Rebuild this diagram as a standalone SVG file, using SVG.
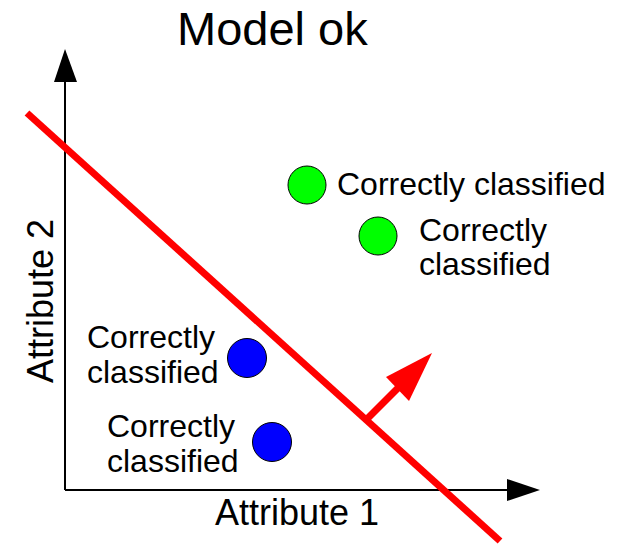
<svg xmlns="http://www.w3.org/2000/svg" width="622" height="544" viewBox="0 0 622 544">
  <style>
    text { font-family: "Liberation Sans", Arial, sans-serif; fill: #000; }
    .title { font-size: 47px; }
    .axis-label { font-size: 36px; }
    .label { font-size: 32px; }
    .axis { stroke: #000; stroke-width: 2; fill: none; }
    .head { fill: #000; }
    .pt { stroke: #000; stroke-width: 1; }
    .green { fill: #00ff00; }
    .blue { fill: #0000ff; }
    .boundary { stroke: #ff0000; stroke-width: 7; fill: none; }
  </style>
  <rect width="622" height="544" fill="#fff"/>

  <text id="title" class="title" x="177" y="45">Model ok</text>

  <g id="axes">
    <line class="axis" x1="65" y1="490" x2="65" y2="80"/>
    <polygon class="head" points="65,49 54,82 77,82"/>
    <line class="axis" x1="65" y1="490" x2="509" y2="490"/>
    <polygon class="head" points="540,490 507,479 507,501"/>
    <text class="axis-label" x="215" y="525">Attribute 1</text>
    <text class="axis-label" transform="translate(53,383) rotate(-90)">Attribute 2</text>
  </g>

  <g id="points">
    <g id="green-1">
      <circle class="pt green" cx="307" cy="185" r="19"/>
      <text class="label" x="337" y="195">Correctly classified</text>
    </g>
    <g id="green-2">
      <circle class="pt green" cx="378" cy="236" r="19"/>
      <text class="label" x="419" y="241">Correctly</text>
      <text class="label" x="419" y="275">classified</text>
    </g>
    <g id="blue-1">
      <circle class="pt blue" cx="247" cy="358" r="19.5"/>
      <text class="label" x="87" y="348">Correctly</text>
      <text class="label" x="87" y="383">classified</text>
    </g>
    <g id="blue-2">
      <circle class="pt blue" cx="272" cy="442" r="19.5"/>
      <text class="label" x="107" y="437">Correctly</text>
      <text class="label" x="107" y="472">classified</text>
    </g>
  </g>

  <g id="decision-boundary">
    <line class="boundary" x1="27" y1="113" x2="500" y2="541"/>
    <line class="boundary" stroke-width="6" x1="368" y1="418" x2="399" y2="387"/>
    <polygon fill="#ff0000" points="432,353 386,377 409,401"/>
  </g>
</svg>
